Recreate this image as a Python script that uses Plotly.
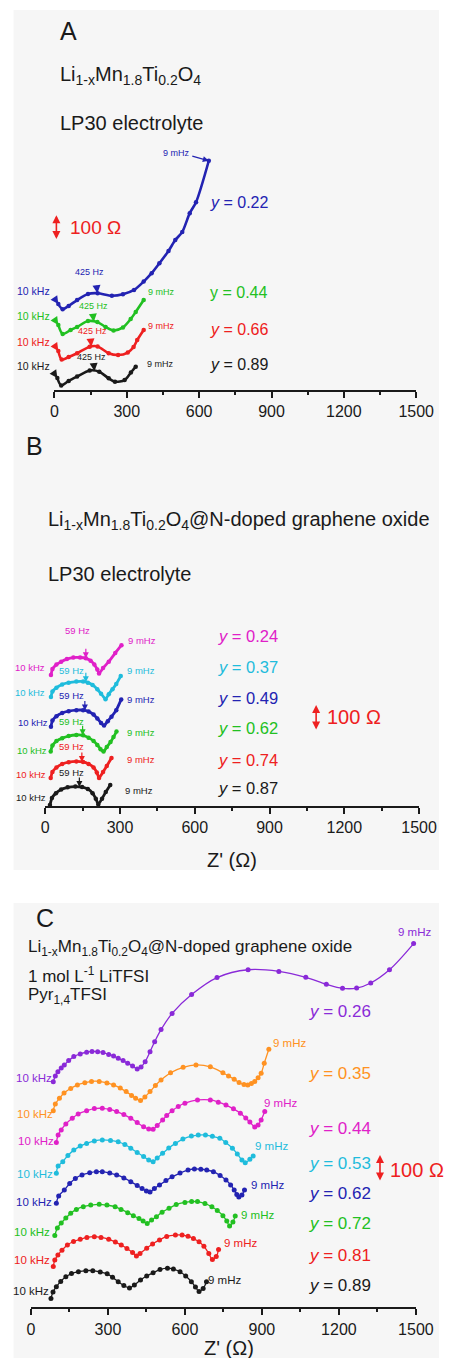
import numpy as np
import plotly.graph_objects as go

W, H = 458, 1358
FONT = "Liberation Sans, Arial, Helvetica, sans-serif"

BLACK = "#1a1a1a"
RED = "#ee2020"
GREEN = "#22c022"
BLUE = "#2323b2"
MAGENTA = "#e020c8"
CYAN = "#1fbcdc"
PURPLE = "#8a2ad8"
ORANGE = "#ff9222"

# ---------------- data: Z' (ohm) and plotted -Z'' incl. stacking offset (ohm) -------------
# Panel A  (Li1-xMn1.8Ti0.2O4, LP30)
a_y_labels = ["0.22", "0.44", "0.66", "0.89"]
a_x_022 = [16, 34, 59, 94, 139, 179, 238, 284, 330, 370, 403, 435, 473, 501, 530, 561, 587, 640]
a_z_022 = [339, 319, 332, 355, 379, 382, 372, 378, 395, 428, 461, 500, 549, 592, 624, 698, 741, 905]
a_x_044 = [16, 34, 67, 94, 139, 178, 212, 245, 284, 316, 337, 370]
a_z_044 = [257, 221, 237, 249, 272, 268, 249, 235, 247, 280, 308, 355]
a_x_066 = [16, 30, 59, 94, 146, 179, 225, 264, 304, 328, 343, 370]
a_z_066 = [154, 120, 130, 145, 171, 172, 145, 138, 148, 170, 197, 237]
a_x_089 = [12, 28, 59, 94, 146, 186, 225, 251, 291, 317, 337]
a_z_089 = [47, 18, 36, 53, 77, 72, 46, 33, 39, 69, 92]
a_425hz_x = [178, 163, 153, 166]

# Panel B  (Li1-xMn1.8Ti0.2O4@N-doped GO, LP30)
b_y_labels = ["0.24", "0.37", "0.49", "0.62", "0.74", "0.87"]
b_x_024 = [23, 29, 45, 64, 87, 113, 140, 163, 182, 197, 209, 216, 232, 255, 281, 306]
b_z_024 = [499, 522, 539, 550, 560, 566, 566, 563, 554, 539, 520, 505, 526, 550, 583, 613]
b_x_037 = [23, 29, 45, 68, 94, 125, 152, 171, 190, 209, 224, 242, 255, 270, 285, 303]
b_z_037 = [415, 436, 451, 463, 470, 474, 474, 470, 461, 445, 428, 407, 426, 445, 465, 495]
b_x_049 = [23, 29, 45, 68, 94, 125, 152, 174, 194, 209, 224, 236, 251, 266, 285, 305]
b_z_049 = [302, 325, 342, 354, 361, 365, 365, 360, 348, 333, 316, 306, 323, 340, 365, 406]
b_x_062 = [22, 29, 45, 68, 94, 125, 152, 174, 194, 209, 222, 234, 247, 262, 274, 286]
b_z_062 = [207, 230, 247, 258, 266, 270, 269, 260, 247, 232, 216, 207, 224, 243, 262, 283]
b_x_074 = [22, 29, 45, 68, 94, 125, 152, 174, 194, 207, 216, 232, 247, 266]
b_z_074 = [106, 129, 146, 159, 166, 169, 167, 159, 146, 127, 106, 129, 152, 182]
b_x_087 = [19, 27, 43, 64, 90, 121, 148, 171, 190, 203, 213, 228, 243, 261]
b_z_087 = [3, 29, 48, 62, 70, 73, 71, 64, 48, 27, 5, 27, 52, 79]
b_59hz_x = [163, 163, 159, 150, 147, 137]

# Panel C  (Li1-xMn1.8Ti0.2O4@N-doped GO, LiTFSI in Pyr14TFSI)
c_y_labels = ["0.26", "0.35", "0.44", "0.53", "0.62", "0.72", "0.81", "0.89"]
c_x_026 = [87, 95, 105, 118, 130, 147, 167, 192, 217, 238, 260, 281, 303, 322, 340, 359, 377, 396,
           414, 429, 445, 464, 482, 507, 550, 626, 725, 846, 966, 1071, 1151, 1214, 1269, 1324, 1397, 1491]
c_z_026 = [837, 858, 874, 888, 899, 915, 930, 940, 946, 949, 948, 945, 938, 932, 924, 915, 905, 895,
           884, 891, 911, 948, 985, 1030, 1090, 1160, 1223, 1252, 1246, 1224, 1198, 1183, 1184, 1203, 1252, 1349]
c_x_035 = [87, 95, 111, 129, 155, 181, 210, 236, 266, 296, 322, 348, 371, 392, 408, 427, 444, 464,
           485, 507, 544, 593, 643, 699, 748, 770, 792, 811, 830, 845, 859, 872, 885, 897, 909, 927]
c_z_035 = [729, 754, 775, 795, 812, 825, 833, 838, 838, 832, 825, 813, 800, 786, 775, 767, 780, 800,
           823, 843, 870, 890, 899, 892, 870, 858, 846, 834, 826, 825, 830, 838, 851, 868, 905, 957]
c_x_044 = [99, 106, 118, 136, 161, 184, 217, 247, 278, 307, 334, 362, 389, 414, 439, 459, 476, 492,
           513, 529, 550, 574, 600, 649, 699, 730, 760, 789, 816, 837, 853, 872, 885, 897, 911]
c_z_044 = [611, 639, 658, 680, 701, 717, 729, 737, 738, 734, 726, 715, 701, 685, 670, 661, 660, 674,
           695, 711, 729, 745, 757, 769, 769, 761, 750, 736, 720, 702, 687, 669, 676, 695, 726]
c_x_053 = [99, 106, 124, 144, 167, 192, 217, 247, 278, 310, 340, 366, 389, 414, 439, 459, 476,
           492, 513, 537, 563, 592, 625, 652, 680, 707, 736, 759, 785, 804, 822, 835, 853, 866]
c_z_053 = [497, 524, 540, 563, 583, 598, 608, 617, 621, 619, 614, 604, 590, 574, 559, 546, 540,
           554, 571, 591, 608, 624, 635, 639, 639, 634, 627, 611, 590, 569, 546, 536, 549, 561]
c_x_062 = [99, 108, 130, 151, 173, 199, 229, 255, 278, 307, 334, 362, 389, 414, 433, 450, 464, 481,
           501, 526, 550, 581, 612, 637, 662, 685, 711, 737, 760, 778, 792, 802, 810, 822, 832]
c_z_062 = [386, 413, 435, 459, 478, 491, 499, 503, 503, 498, 491, 480, 466, 452, 441, 431, 428, 441,
           454, 470, 484, 498, 509, 513, 512, 509, 503, 489, 472, 454, 435, 418, 409, 417, 435]
c_x_072 = [93, 103, 118, 136, 155, 177, 204, 233, 266, 296, 328, 351, 377, 399, 421, 437, 453,
           470, 489, 511, 538, 566, 600, 626, 649, 678, 705, 726, 748, 763, 774, 787, 796]
c_z_072 = [266, 294, 313, 331, 349, 363, 373, 379, 382, 379, 373, 363, 351, 340, 329, 320, 311,
           324, 336, 353, 367, 381, 389, 392, 392, 385, 373, 359, 340, 320, 302, 316, 339]
c_x_081 = [87, 93, 105, 121, 142, 166, 192, 218, 247, 273, 303, 329, 352, 374, 396, 411,
           425, 451, 474, 501, 529, 563, 589, 612, 633, 655, 674, 693, 707, 722, 731]
c_z_081 = [151, 175, 194, 212, 231, 244, 252, 259, 262, 259, 252, 242, 231, 218, 203, 190,
           200, 219, 235, 250, 263, 268, 268, 264, 255, 243, 226, 200, 177, 188, 214]
c_x_089 = [78, 86, 99, 116, 136, 158, 185, 214, 241, 270, 297, 318, 340, 362, 384,
           403, 427, 451, 476, 503, 532, 555, 581, 603, 625, 641, 655, 671, 684]
c_z_089 = [33, 57, 76, 96, 113, 125, 132, 136, 136, 131, 124, 111, 95, 81, 72,
           83, 101, 116, 128, 140, 145, 142, 132, 116, 95, 75, 59, 70, 95]

AX_TICKS = [0, 300, 600, 900, 1200, 1500]
SCALE_BAR = 100  # ohm

# ---------------- geometry (page pixels) ----------------
PAN = {
    "A": dict(xa="x", ya="y", x0=53.0, x1=433.0, axis=390.0, top=140.0),
    "B": dict(xa="x2", ya="y2", x0=43.3, x1=436.0, axis=805.7, top=590.0),
    "C": dict(xa="x3", ya="y3", x0=28.3, x1=432.7, axis=1307.3, top=915.0),
}


def P(xpx, ypx):
    return xpx / W, 1 - ypx / H


fig = go.Figure()

series = [
    ("A", a_x_022, a_z_022, BLUE), ("A", a_x_044, a_z_044, GREEN),
    ("A", a_x_066, a_z_066, RED), ("A", a_x_089, a_z_089, BLACK),
    ("B", b_x_024, b_z_024, MAGENTA), ("B", b_x_037, b_z_037, CYAN),
    ("B", b_x_049, b_z_049, BLUE), ("B", b_x_062, b_z_062, GREEN),
    ("B", b_x_074, b_z_074, RED), ("B", b_x_087, b_z_087, BLACK),
    ("C", c_x_026, c_z_026, PURPLE), ("C", c_x_035, c_z_035, ORANGE),
    ("C", c_x_044, c_z_044, MAGENTA), ("C", c_x_053, c_z_053, CYAN),
    ("C", c_x_062, c_z_062, BLUE), ("C", c_x_072, c_z_072, GREEN),
    ("C", c_x_081, c_z_081, RED), ("C", c_x_089, c_z_089, BLACK),
]
for pan, xs, zs, col in series:
    g = PAN[pan]
    if pan == "C":
        line = dict(color=col, width=1.3, shape="spline", smoothing=1.0)
        marker = dict(color=col, size=5)
    elif pan == "B":
        line = dict(color=col, width=2.8, shape="spline", smoothing=0.5)
        marker = dict(color=col, size=4.5)
    else:
        line = dict(color=col, width=2.6, shape="spline", smoothing=0.8)
        marker = dict(color=col, size=4.5)
    fig.add_trace(go.Scatter(x=xs, y=zs, mode="lines+markers", line=line, marker=marker,
                             xaxis=g["xa"], yaxis=g["ya"], cliponaxis=False,
                             showlegend=False, hoverinfo="skip"))

layout = dict(width=W, height=H, margin=dict(l=0, r=0, t=0, b=0, pad=0),
              paper_bgcolor="white", plot_bgcolor="rgba(0,0,0,0)", showlegend=False,
              font=dict(family=FONT, color=BLACK))
for i, key in enumerate(["A", "B", "C"]):
    g = PAN[key]
    sx = (g["x1"] - g["x0"]) / 1500.0
    suf = "" if i == 0 else str(i + 1)
    layout["xaxis" + suf] = dict(
        domain=[g["x0"] / W, g["x1"] / W], range=[0, 1500], anchor=g["ya"],
        tickvals=AX_TICKS, ticks="outside", ticklen=6, tickwidth=2, tickcolor=BLACK,
        showline=True, linewidth=2, linecolor=BLACK, showgrid=False, zeroline=False,
        tickfont=dict(size=16, family=FONT, color=BLACK),
        minor=dict(tick0=0, dtick=150, ticks="outside", ticklen=3, tickwidth=2,
                   tickcolor=BLACK, showgrid=False),
        fixedrange=True)
    layout["yaxis" + suf] = dict(
        domain=[1 - g["axis"] / H, 1 - g["top"] / H],
        range=[0, (g["axis"] - g["top"]) / sx], anchor=g["xa"], visible=False,
        fixedrange=True)
fig.update_layout(**layout)

# gray panel backgrounds
for (x0, y0, x1, y1) in [(10, 10, 457, 870), (10, 903, 457, 1358)]:
    fig.add_shape(type="rect", xref="paper", yref="paper", x0=x0 / W, x1=x1 / W,
                  y0=1 - y1 / H, y1=1 - y0 / H, fillcolor="#f6f6f6",
                  line=dict(width=0), layer="below")

ann = []


def text(t, xpx, ypx, size, color=BLACK, anchor="left"):
    xp, yp = P(xpx, ypx)
    ann.append(dict(text=t, x=xp, y=yp, xref="paper", yref="paper", xanchor=anchor,
                    yanchor="middle", showarrow=False,
                    font=dict(size=size, color=color, family=FONT)))


def arrow(pan, x, y, ax, ay, color, size=1.0, width=1.3, head=2):
    g = PAN[pan]
    ann.append(dict(text="", x=x, y=y, xref=g["xa"], yref=g["ya"], ax=ax, ay=ay,
                    showarrow=True, arrowhead=head, arrowsize=size, arrowwidth=width,
                    arrowcolor=color, standoff=0))


def scale_bar(pan, x, yc, color=RED):
    g = PAN[pan]
    ann.append(dict(text="", x=x, y=yc + SCALE_BAR / 2, ax=x, ay=yc - SCALE_BAR / 2,
                    xref=g["xa"], yref=g["ya"], axref=g["xa"], ayref=g["ya"],
                    showarrow=True, arrowhead=2, arrowside="end+start", arrowsize=1.0,
                    arrowwidth=1.6, arrowcolor=color, standoff=0, startstandoff=0))


LMT = "Li<sub>1-x</sub>Mn<sub>1.8</sub>Ti<sub>0.2</sub>O<sub>4</sub>"

# ---- Panel A text ----
text("A", 57, 31, 25)
text(LMT, 57, 75, 20)
text("LP30 electrolyte", 57, 123, 20)
a_cols = [BLUE, GREEN, RED, BLACK]
a_series = [(a_x_022, a_z_022), (a_x_044, a_z_044), (a_x_066, a_z_066), (a_x_089, a_z_089)]
a_khz_y = [291, 316, 342, 366]
a_hz_pos = [(89.5, 272), (93.5, 306), (92.5, 331), (91.5, 357)]
a_mhz_pos = [(181.5, 153), (165, 292), (165, 326), (164.5, 364)]
a_ylab_y = [202, 292, 329, 365]
for i, col in enumerate(a_cols):
    xs, zs = a_series[i]
    text("10 kHz", 31, a_khz_y[i], 10.5, col, "center")
    text("425 Hz", a_hz_pos[i][0], a_hz_pos[i][1], 9, col, "center")
    text("9 mHz", a_mhz_pos[i][0], a_mhz_pos[i][1], 9, col, "center")
    ylab = ("y = " if i == 1 else "<i>y</i> = ") + a_y_labels[i]
    text(ylab, 214, a_ylab_y[i], 16, col)
    arrow("A", xs[0], zs[0], -4, -6, col, size=1.0, width=1.6)
    hx = a_425hz_x[i]
    arrow("A", hx, float(np.interp(hx, xs, zs)), -1, -9, col, size=1.0, width=1.6)
arrow("A", a_x_022[-1], a_z_022[-1], -18, -5, BLUE, size=1.0, width=1.2)
scale_bar("A", 8, 640)
text("100 Ω", 67, 228, 19, RED)

# ---- Panel B text ----
text("B", 21, 446, 25)
text(LMT + "@N-doped graphene oxide", 44, 520, 20)
text("LP30 electrolyte", 44, 574, 20)
b_cols = [MAGENTA, CYAN, BLUE, GREEN, RED, BLACK]
b_series = [(b_x_024, b_z_024), (b_x_037, b_z_037), (b_x_049, b_z_049),
            (b_x_062, b_z_062), (b_x_074, b_z_074), (b_x_087, b_z_087)]
b_hz_pos = [(77, 630), (70.5, 670), (70.5, 695.7), (70.5, 721.7), (71, 746.7), (71, 772.7)]
b_mhz_pos = [(145, 640), (143.5, 670), (143.5, 700), (143.5, 732.7), (143.5, 759.3), (141.5, 790)]
b_ylab_y = [636, 667, 697.7, 728.3, 760, 788.3]
b_khz_pos = [(27.5, 667.5), (27.5, 692), (30, 722.7), (29, 750), (28.5, 774), (28, 797.3)]
for i, col in enumerate(b_cols):
    xs, zs = b_series[i]
    text("59 Hz", b_hz_pos[i][0], b_hz_pos[i][1], 9.5, col, "center")
    text("9 mHz", b_mhz_pos[i][0], b_mhz_pos[i][1], 9.5, col, "center")
    text("10 kHz", b_khz_pos[i][0], b_khz_pos[i][1], 9.5, col, "center")
    text("<i>y</i> = " + b_y_labels[i], 223, b_ylab_y[i], 16.5, col)
    hx = b_59hz_x[i]
    arrow("B", hx, float(np.interp(hx, xs, zs)), 0, -11, col, size=1.0, width=1.2)
scale_bar("B", 1087, 335)
text("100 Ω", 337, 717, 20, RED)
text("Z' (Ω)", 239, 860, 20, BLACK, "center")

# ---- Panel C text ----
text("C", 32, 918, 25)
text(LMT + "@N-doped graphene oxide", 23, 948, 17)
text("1 mol L<sup>-1</sup> LiTFSI", 23, 975, 17)
text("Pyr<sub>1,4</sub>TFSI", 23, 996, 17)
c_cols = [PURPLE, ORANGE, MAGENTA, CYAN, BLUE, GREEN, RED, BLACK]
c_mhz_pos = [(431.5, 931.7), (300, 1042.7), (290.5, 1102.7), (281.5, 1146),
             (276.5, 1185), (266.5, 1215), (248, 1243.3), (232, 1280)]
c_ylab_y = [1011.7, 1073.3, 1128.3, 1163.3, 1193.3, 1223.3, 1255, 1285]
c_khz_pos = [(31, 1077.7), (33, 1114.3), (34, 1140.7), (32.5, 1174),
             (31, 1201.7), (29.5, 1232.3), (29.5, 1260), (28, 1290.7)]
for i, col in enumerate(c_cols):
    text("9 mHz", c_mhz_pos[i][0], c_mhz_pos[i][1], 11.5, col, "center")
    text("10 kHz", c_khz_pos[i][0], c_khz_pos[i][1], 11.5, col, "center")
    text("<i>y</i> = " + c_y_labels[i], 318, c_ylab_y[i], 17, col)
scale_bar("C", 1360, 515)
text("100 Ω", 403, 1170, 20, RED)
text("Z' (Ω)", 236, 1348, 20, BLACK, "center")

fig.update_layout(annotations=ann)
fig.write_html("out.html",
               config={"displayModeBar": False, "staticPlot": True},
               post_script="document.body.style.margin='0';"
                           "document.body.style.overflow='hidden';")
